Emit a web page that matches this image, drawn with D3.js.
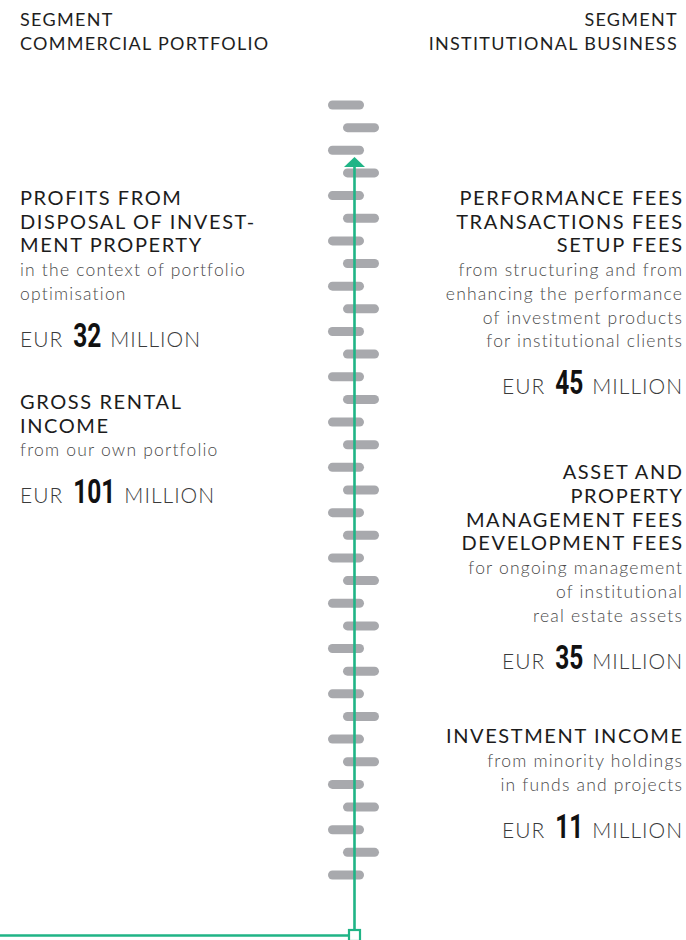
<!DOCTYPE html>
<html>
<head>
<meta charset="utf-8">
<script src="https://cdn.jsdelivr.net/npm/d3@7"></script>
<style>
  body { margin: 0; background: #fff; }
  svg { display: block; }
</style>
</head>
<body>
<script>
const width = 686;
const height = 940;

// segments (column headers)
const segments = ['COMMERCIAL PORTFOLIO', 'INSTITUTIONAL BUSINESS'];

// left column: commercial portfolio
const leftTitles = [
  ['PROFITS FROM', 'DISPOSAL OF INVEST-', 'MENT PROPERTY'],
  ['GROSS RENTAL', 'INCOME']
];
const leftNotes = [
  ['in the context of portfolio', 'optimisation'],
  ['from our own portfolio']
];
const leftValues = [32, 101];

// right column: institutional business
const rightTitles = [
  ['PERFORMANCE FEES', 'TRANSACTIONS FEES', 'SETUP FEES'],
  ['ASSET AND', 'PROPERTY', 'MANAGEMENT FEES', 'DEVELOPMENT FEES'],
  ['INVESTMENT INCOME']
];
const rightNotes = [
  ['from structuring and from', 'enhancing the performance', 'of investment products', 'for institutional clients'],
  ['for ongoing management', 'of institutional', 'real estate assets'],
  ['from minority holdings', 'in funds and projects']
];
const rightValues = [45, 35, 11];

const dashCount = 35;

// layout
const green = '#20b486';
const grey = '#a8a9ad';
const lineStep = 23.7;
const valueGap = 47;
const leftStarts = [205, 409];
const rightStarts = [205, 479.3, 743.3];
const leftX = 20;
const rightX = 682;
const axisX = 354.5;
const numScale = 0.72;

const svg = d3.select('body').append('svg')
  .attr('width', width)
  .attr('height', height);

// headers
const headers = svg.append('g').attr('class', 'headers')
  .style('font-family', 'Lato, sans-serif')
  .style('font-size', '18px')
  .style('letter-spacing', '1.3px')
  .attr('fill', '#1e1e1e');

segments.forEach((s, i) => {
  const hx = i === 0 ? leftX : 678;
  const t = headers.append('text')
    .attr('text-anchor', i === 0 ? 'start' : 'end');
  ['SEGMENT', s].forEach((line, j) => {
    t.append('tspan')
      .attr('x', hx)
      .attr('y', 25.5 + j * 24.3)
      .text(line);
  });
});

// dashed spine
const yDash = d3.scaleLinear().domain([0, dashCount - 1]).range([105, 875]);
svg.append('g').attr('class', 'dashes')
  .selectAll('line')
  .data(d3.range(dashCount))
  .enter().append('line')
    .attr('x1', i => i % 2 === 0 ? 332.5 : 347.5)
    .attr('x2', i => i % 2 === 0 ? 359.5 : 374.5)
    .attr('y1', i => yDash(i))
    .attr('y2', i => yDash(i))
    .attr('stroke', grey)
    .attr('stroke-width', 9)
    .attr('stroke-linecap', 'round');

// green arrow
const arrow = svg.append('g').attr('class', 'arrow');
arrow.append('path')
  .attr('d', `M0,935.5 H${axisX} V166`)
  .attr('fill', 'none')
  .attr('stroke', green)
  .attr('stroke-width', 2.6);
arrow.append('path')
  .attr('d', `M${axisX},157 L${axisX + 10.5},167 L${axisX - 10.5},167 Z`)
  .attr('fill', green);
arrow.append('rect')
  .attr('x', axisX - 5.5)
  .attr('y', 930)
  .attr('width', 11)
  .attr('height', 11)
  .attr('fill', '#fff')
  .attr('stroke', green)
  .attr('stroke-width', 2.2);

// "EUR <n> MILLION" built from three measured pieces
function valueLine(g, x, y, value, side) {
  const unit = s => g.append('text')
    .attr('y', y)
    .attr('text-anchor', 'start')
    .style('font-size', '21px')
    .style('font-weight', 300)
    .style('letter-spacing', '1px')
    .attr('fill', '#3a3a3a')
    .text(s);
  const eur = unit('EUR');
  const mil = unit('MILLION');
  const num = g.append('text')
    .attr('text-anchor', 'start')
    .style('font-family', 'Roboto, sans-serif')
    .style('font-size', '34px')
    .style('font-weight', 700)
    .attr('fill', '#111')
    .text(value);
  const wE = eur.node().getComputedTextLength();
  const wM = mil.node().getComputedTextLength();
  const wN = num.node().getComputedTextLength() * numScale;
  const gap1 = 10, gap2 = 9;
  const total = wE + gap1 + wN + gap2 + wM;
  const x0 = side === 'left' ? x : x - total + 1;
  eur.attr('x', x0);
  num.attr('transform', `translate(${x0 + wE + gap1},${y}) scale(${numScale},1)`);
  mil.attr('x', x0 + wE + gap1 + wN + gap2);
}

function drawBlocks(titles, notes, values, starts, side) {
  const anchor = side === 'left' ? 'start' : 'end';
  const x = side === 'left' ? leftX : rightX;
  const g = svg.append('g').attr('class', side)
    .attr('text-anchor', anchor)
    .style('font-family', 'Lato, sans-serif');

  titles.forEach((title, k) => {
    let y = starts[k];
    title.forEach(line => {
      g.append('text')
        .attr('x', side === 'left' ? x : x + 1.6).attr('y', y)
        .style('font-size', '20px')
        .style('letter-spacing', '1.6px')
        .attr('fill', '#1c1c1c')
        .text(line);
      y += lineStep;
    });
    notes[k].forEach(line => {
      g.append('text')
        .attr('x', side === 'left' ? x : x + 1.2).attr('y', y)
        .style('font-size', '17.5px')
        .style('font-weight', 300)
        .style('letter-spacing', '1.2px')
        .attr('fill', '#4a4a4a')
        .text(line);
      y += lineStep;
    });
    y += valueGap - lineStep;
    valueLine(g, x, y, values[k], side);
  });
}

drawBlocks(leftTitles, leftNotes, leftValues, leftStarts, 'left');
drawBlocks(rightTitles, rightNotes, rightValues, rightStarts, 'right');
</script>
</body>
</html>
